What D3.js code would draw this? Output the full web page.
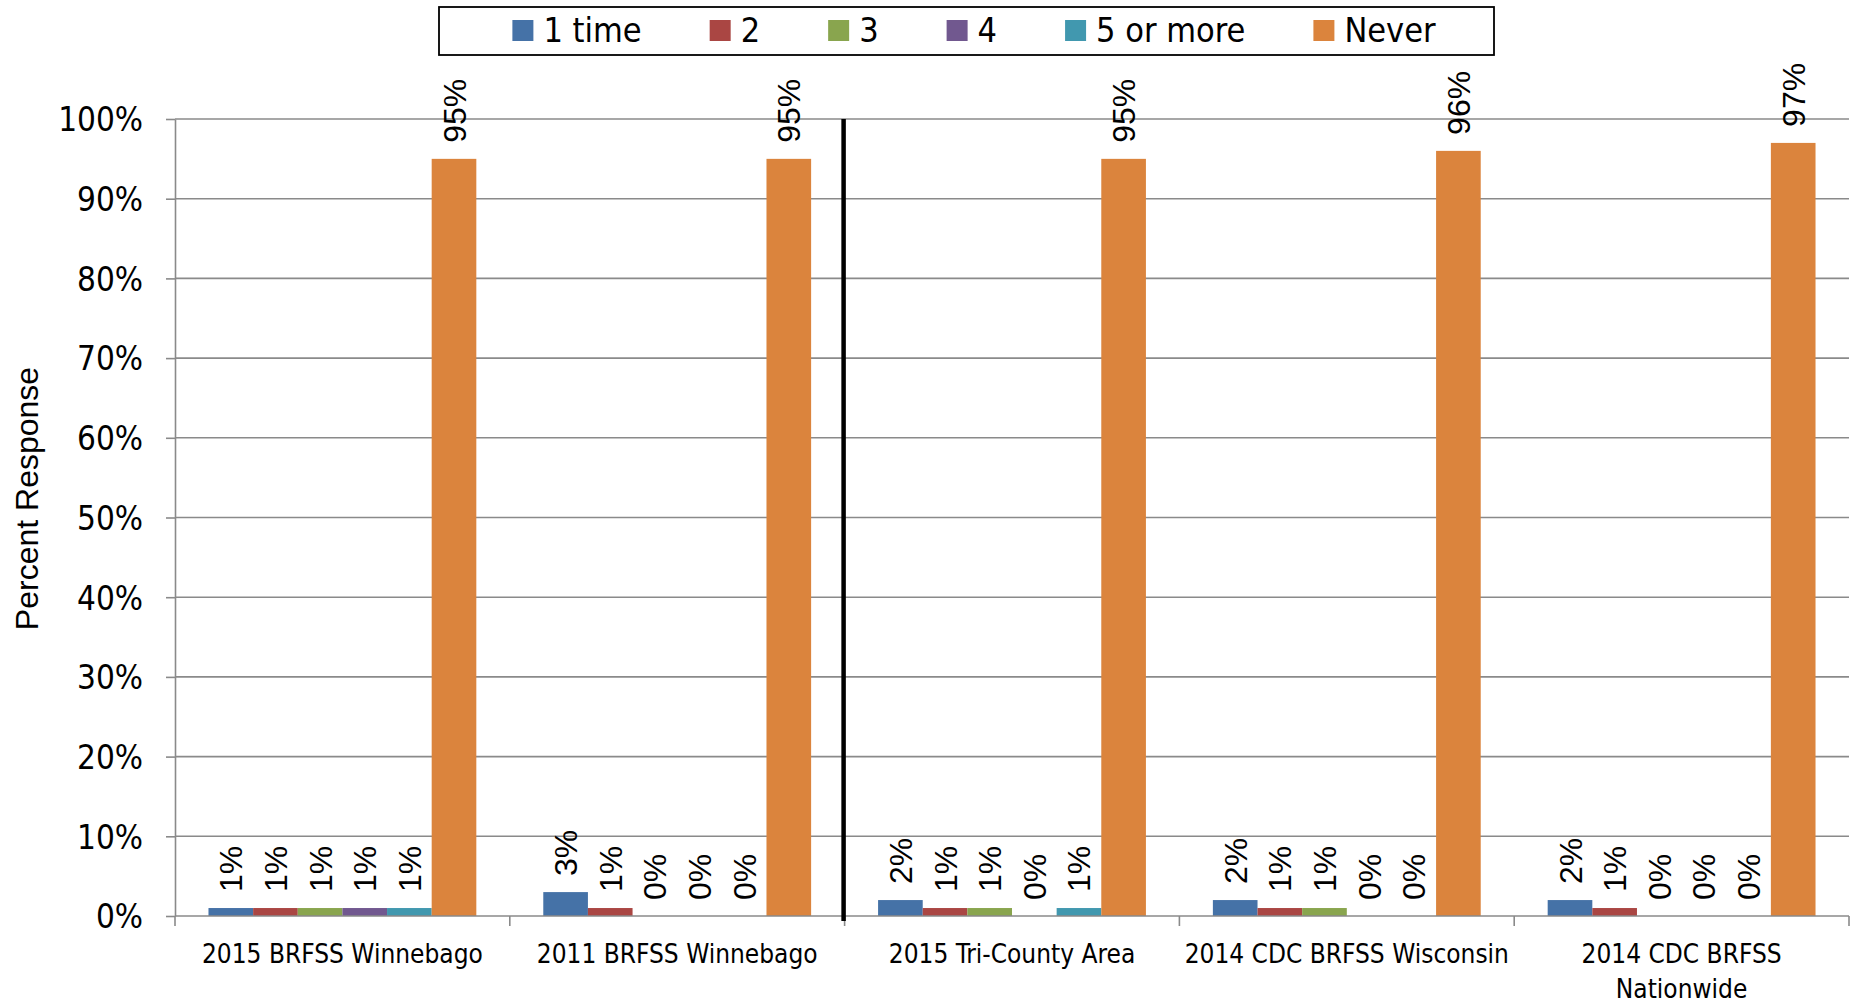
<!DOCTYPE html>
<html>
<head>
<meta charset="utf-8">
<script src="https://cdn.jsdelivr.net/npm/d3@7"></script>
<style>
  html, body { margin: 0; padding: 0; background: #fff; }
  svg { display: block; }
  .narrow { font-family: "Liberation Sans Narrow", "Arial Narrow", "DejaVu Sans Condensed", "Liberation Sans", sans-serif; }
  .reg { font-family: "Liberation Sans", Arial, sans-serif; }
</style>
</head>
<body>
<svg id="chart" width="1856" height="1003"></svg>
<script>
// ---- data ----
const categories = [
  "2015 BRFSS Winnebago",
  "2011 BRFSS Winnebago",
  "2015 Tri-County Area",
  "2014 CDC BRFSS Wisconsin",
  "2014 CDC BRFSS\nNationwide"
];
const seriesNames = ["1 time", "2", "3", "4", "5 or more", "Never"];
const seriesColors = ["#4572A7", "#AA4643", "#89A54E", "#71588F", "#4198AF", "#DB843D"];
const s1time   = [1, 3, 2, 2, 2];
const s2       = [1, 1, 1, 1, 1];
const s3       = [1, 0, 1, 1, 0];
const s4       = [1, 0, 0, 0, 0];
const s5more   = [1, 0, 1, 0, 0];
const sNever   = [95, 95, 95, 96, 97];
const yTicks = [0, 10, 20, 30, 40, 50, 60, 70, 80, 90, 100];
const yTitle = "Percent Response";

const seriesValues = [s1time, s2, s3, s4, s5more, sNever];

// ---- layout ----
const svg = d3.select("#chart");
const pLeft = 175, pRight = 1849, pTop = 119, pBottom = 916;

const x0 = d3.scaleBand().domain(categories).range([pLeft, pRight]).padding(0);
const gap = x0.bandwidth() * 1.5 / 7.5;
const x1 = d3.scaleBand().domain(seriesNames).range([gap / 2, x0.bandwidth() - gap / 2]).padding(0);
const y = d3.scaleLinear().domain([0, 100]).range([pBottom, pTop]);

const gridColor = "#8a8a8a";

// gridlines
svg.append("g").selectAll("line").data(yTicks.filter(d => d > 0)).join("line")
  .attr("x1", pLeft).attr("x2", pRight)
  .attr("y1", d => y(d)).attr("y2", d => y(d))
  .attr("stroke", gridColor).attr("stroke-width", 1.6);

// y axis
const yAxis = d3.axisLeft(y).tickValues(yTicks).tickFormat(d => d + "%")
  .tickSize(9).tickSizeOuter(0).tickPadding(23);
const gy = svg.append("g").attr("transform", `translate(${pLeft},0)`).call(yAxis);
gy.attr("font-family", null).attr("font-size", null);
gy.select(".domain").attr("stroke", gridColor).attr("stroke-width", 1.6);
gy.selectAll(".tick line").attr("stroke", gridColor).attr("stroke-width", 1.6);
gy.selectAll(".tick text").attr("class", "narrow").attr("font-size", 33).attr("fill", "#000")
  .attr("dy", "0.36em");

// bars
const groups = svg.append("g").selectAll("g").data(categories).join("g")
  .attr("transform", d => `translate(${x0(d)},0)`);
groups.selectAll("rect")
  .data((c, ci) => seriesNames.map((s, si) => ({ s, si, v: seriesValues[si][ci] })))
  .join("rect")
  .attr("x", d => x1(d.s))
  .attr("width", x1.bandwidth())
  .attr("y", d => y(d.v))
  .attr("height", d => y(0) - y(d.v))
  .attr("fill", d => seriesColors[d.si]);

// data labels
groups.selectAll("text.lbl")
  .data((c, ci) => seriesNames.map((s, si) => ({ s, si, v: seriesValues[si][ci] })))
  .join("text")
  .attr("class", "lbl reg")
  .attr("font-size", 32)
  .attr("fill", "#000")
  .attr("text-anchor", "start")
  .attr("dy", "0.36em")
  .attr("transform", d => `translate(${x1(d.s) + x1.bandwidth() / 2},${y(d.v) - 16}) rotate(-90)`)
  .text(d => d.v + "%");

// x axis line and ticks
svg.append("line").attr("x1", pLeft).attr("x2", pRight).attr("y1", pBottom).attr("y2", pBottom)
  .attr("stroke", gridColor).attr("stroke-width", 1.6);
const bounds = categories.map(c => x0(c)).concat([pRight]);
svg.append("g").selectAll("line").data(bounds).join("line")
  .attr("x1", d => d).attr("x2", d => d).attr("y1", pBottom).attr("y2", pBottom + 10)
  .attr("stroke", gridColor).attr("stroke-width", 1.6);

// category labels
const catText = svg.append("g").selectAll("text").data(categories).join("text")
  .attr("class", "narrow").attr("font-size", 26).attr("fill", "#000")
  .attr("text-anchor", "middle")
  .attr("x", d => x0(d) + x0.bandwidth() / 2)
  .attr("y", 963);
catText.each(function (d) {
  const lines = d.split("\n");
  const t = d3.select(this);
  lines.forEach((ln, i) => {
    t.append("tspan").attr("x", x0(d) + x0.bandwidth() / 2).attr("dy", i === 0 ? 0 : 35).text(ln);
  });
});

// divider line between groups 2 and 3
svg.append("line")
  .attr("x1", x0(categories[2]) - 1).attr("x2", x0(categories[2]) - 1)
  .attr("y1", pTop).attr("y2", pBottom + 5)
  .attr("stroke", "#000").attr("stroke-width", 4.5);

// y axis title
svg.append("text").attr("class", "reg").attr("font-size", 32).attr("fill", "#000")
  .attr("text-anchor", "middle")
  .attr("transform", `translate(38,${(pTop + pBottom) / 2 - 19}) rotate(-90)`)
  .text(yTitle);

// legend
const lg = svg.append("g");
lg.append("rect").attr("x", 439).attr("y", 7).attr("width", 1055).attr("height", 48)
  .attr("fill", "#fff").attr("stroke", "#000").attr("stroke-width", 1.8);
const items = lg.append("g");
let cx = 0;
seriesNames.forEach((s, i) => {
  const g = items.append("g").attr("transform", `translate(${cx},0)`);
  g.append("rect").attr("x", 0).attr("y", 20).attr("width", 21).attr("height", 21).attr("fill", seriesColors[i]);
  const t = g.append("text").attr("class", "narrow").attr("font-size", 34).attr("fill", "#000")
    .attr("x", 31).attr("y", 42).text(s);
  const w = t.node().getComputedTextLength();
  cx += 31 + w + (i < seriesNames.length - 1 ? 68 : 0);
});
const totalW = cx;
items.attr("transform", `translate(${974 - totalW / 2},0)`);
</script>
</body>
</html>
